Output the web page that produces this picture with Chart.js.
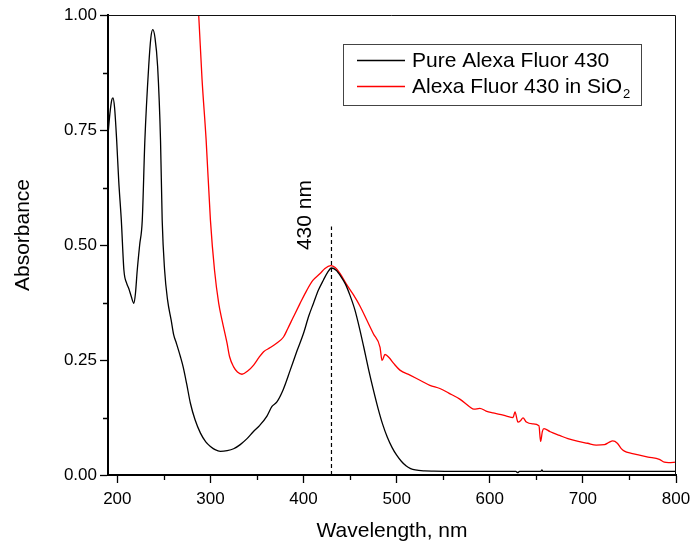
<!DOCTYPE html>
<html>
<head>
<meta charset="utf-8">
<script src="https://cdn.jsdelivr.net/npm/chart.js@4.4.1/dist/chart.umd.min.js"></script>
<style>
html,body{margin:0;padding:0;background:#fff;}
canvas{display:block;}
</style>
</head>
<body>
<canvas id="c" width="691" height="546"></canvas>
<script>
// ---- data ----
const seriesLabels = ['Pure Alexa Fluor 430', 'Alexa Fluor 430 in SiO\u2082'];

const pureX = [190,192,194,195.3,197,199.3,201.5,204.3,207.1,210,212.4,215,217.8,219.5,221.4,224,226.8,229.6,233.7,236,238.1,240.5,243.3,246.4,248.2,250.8,254,257.9,260.5,263.5,267.8,270.7,274.5,278.5,283.5,289.3,295,300.7,305,310.7,318,324.9,332,339.3,346,353,360.7,366.1,371.4,378,385.7,393,400,405.5,410.6,416,421.4,426,430,435,440,445,450,455,460,465,470,475,480,485,490,495,500,505,510,515,520,530,540,560,600,628,630,632,655,656,657,700,750,800];
const pureY = [0.74,0.785,0.815,0.82,0.80,0.728,0.64,0.554,0.445,0.417,0.405,0.388,0.373,0.395,0.445,0.50,0.554,0.728,0.888,0.95,0.968,0.95,0.888,0.728,0.554,0.445,0.38,0.336,0.305,0.286,0.257,0.235,0.198,0.156,0.12,0.091,0.072,0.061,0.055,0.0515,0.053,0.057,0.066,0.079,0.094,0.108,0.128,0.149,0.159,0.185,0.228,0.27,0.308,0.345,0.373,0.402,0.424,0.441,0.45,0.445,0.432,0.415,0.39,0.36,0.32,0.275,0.228,0.185,0.145,0.11,0.082,0.06,0.043,0.03,0.02,0.014,0.011,0.009,0.0085,0.008,0.008,0.008,0.005,0.008,0.008,0.011,0.008,0.008,0.008,0.008];

const sio2X = [282,287.4,291,295.4,300,304.4,308.9,312.5,317.9,320.6,324.9,329,333.9,340,346.4,352,357.1,364.3,371.4,378.5,383,389.2,396,403.6,410,417.8,423,429,434,439.3,446,453.5,460.7,467.9,475,482.1,484.3,487.5,492,497,503.5,514.3,525,535.7,546.4,556,567.8,578.6,583,589.3,596,603.5,610.7,618,625,627.1,630.3,633,635.7,639.3,646,652.8,654.6,656.5,658.2,665,675,683.9,695,705,714.3,723.2,728,732.1,737,741,744.6,752,760.7,770,782.1,787.5,792,800];
const sio2Y = [1.17,1.0,0.86,0.728,0.554,0.445,0.373,0.336,0.286,0.257,0.235,0.224,0.219,0.226,0.239,0.255,0.268,0.277,0.287,0.30,0.318,0.344,0.372,0.402,0.423,0.438,0.449,0.455,0.451,0.438,0.415,0.392,0.367,0.337,0.307,0.278,0.249,0.262,0.255,0.242,0.228,0.217,0.206,0.195,0.188,0.178,0.165,0.148,0.143,0.145,0.139,0.135,0.132,0.128,0.125,0.137,0.115,0.118,0.124,0.115,0.111,0.107,0.073,0.095,0.101,0.094,0.086,0.079,0.073,0.069,0.065,0.066,0.071,0.074,0.069,0.058,0.052,0.047,0.043,0.039,0.034,0.028,0.027,0.028];

const peakMarkerX = [430, 430];
const peakMarkerY = [0, 0.54];
const peakLabel = '430 nm';
const peakLabelY = 0.565;

const xTickValues = [200,300,400,500,600,700,800];
const xMinorTicks = [250,350,450,550,650,750];
const yTickValues = [0,0.25,0.5,0.75,1.0];
const yMinorTicks = [0.125,0.375,0.625,0.875];
const xTitle = 'Wavelength, nm';
const yTitle = 'Absorbance';

// ---- chart ----
const FONT = "'Liberation Sans', Arial, Helvetica, sans-serif";
Chart.defaults.font.family = FONT;
Chart.defaults.color = '#000';

const toXY = (xs, ys) => xs.map((x, i) => ({x: x, y: ys[i]}));

function drawRich(ctx, text, x, y, size) {
  // draws text, rendering '\u2082' as a subscript 2
  const parts = text.split('\u2082');
  let cx = x;
  parts.forEach((p, i) => {
    ctx.font = size + 'px ' + FONT;
    ctx.fillText(p, cx, y);
    cx += ctx.measureText(p).width;
    if (i < parts.length - 1) {
      const s = Math.round(size * 0.62);
      ctx.font = s + 'px ' + FONT;
      ctx.fillText('2', cx + 1, y + size * 0.36);
      cx += ctx.measureText('2').width + 1;
    }
  });
}

const extras = {
  id: 'extras',
  afterDraw(chart) {
    const {ctx, chartArea: a, scales: {x, y}} = chart;
    ctx.save();
    // top and right frame
    ctx.strokeStyle = '#111';
    ctx.lineWidth = 1;
    ctx.beginPath();
    ctx.moveTo(a.left, a.top + 0.5);
    ctx.lineTo(a.right - 0.5, a.top + 0.5);
    ctx.lineTo(a.right - 0.5, a.bottom);
    ctx.stroke();
    // minor ticks
    ctx.strokeStyle = '#000';
    ctx.lineWidth = 1.3;
    ctx.beginPath();
    xMinorTicks.forEach(v => {
      const px = Math.round(x.getPixelForValue(v)) + 0.5;
      ctx.moveTo(px, a.bottom);
      ctx.lineTo(px, a.bottom + 5);
    });
    yMinorTicks.forEach(v => {
      const py = Math.round(y.getPixelForValue(v)) + 0.5;
      ctx.moveTo(a.left, py);
      ctx.lineTo(a.left - 5, py);
    });
    ctx.stroke();

    // peak label (rotated)
    ctx.fillStyle = '#000';
    ctx.save();
    ctx.translate(x.getPixelForValue(peakMarkerX[0]) - 26, y.getPixelForValue(peakLabelY));
    ctx.rotate(-Math.PI / 2);
    ctx.font = '21px ' + FONT;
    ctx.textAlign = 'center';
    ctx.textBaseline = 'middle';
    ctx.fillText(peakLabel, 0, 0);
    ctx.restore();

    // y axis title
    ctx.save();
    ctx.translate(23, (a.top + a.bottom) / 2 - 10);
    ctx.rotate(-Math.PI / 2);
    ctx.font = '21px ' + FONT;
    ctx.textAlign = 'center';
    ctx.textBaseline = 'middle';
    ctx.fillText(yTitle, 0, 0);
    ctx.restore();

    // legend
    const lx = a.right - 333, ly = a.top + 29, lw = 298, lh = 61;
    ctx.strokeStyle = '#444';
    ctx.lineWidth = 1;
    ctx.strokeRect(lx + 0.5, ly + 0.5, lw, lh);
    ctx.textAlign = 'left';
    ctx.textBaseline = 'middle';
    const rowY = [ly + 16, ly + 42];
    [0, 1].forEach(i => {
      const ds = chart.data.datasets[i];
      ctx.strokeStyle = ds.borderColor;
      ctx.lineWidth = 1.3;
      ctx.beginPath();
      ctx.moveTo(lx + 14, rowY[i] + 0.5);
      ctx.lineTo(lx + 62, rowY[i] + 0.5);
      ctx.stroke();
      ctx.fillStyle = '#000';
      drawRich(ctx, ds.label, lx + 69, rowY[i] + 1, 21);
    });
    ctx.restore();
  }
};

new Chart(document.getElementById('c'), {
  type: 'line',
  data: {
    datasets: [
      {label: seriesLabels[0], data: toXY(pureX, pureY), borderColor: '#000000', borderWidth: 1.3,
       pointRadius: 0, cubicInterpolationMode: 'monotone', fill: false},
      {label: seriesLabels[1], data: toXY(sio2X, sio2Y), borderColor: '#ff0000', borderWidth: 1.3,
       pointRadius: 0, cubicInterpolationMode: 'monotone', fill: false},
      {label: 'marker', data: toXY(peakMarkerX, peakMarkerY), borderColor: '#000000', borderWidth: 1.2,
       borderDash: [4, 3], pointRadius: 0, fill: false}
    ]
  },
  options: {
    responsive: false,
    animation: false,
    devicePixelRatio: 1,
    layout: {padding: {top: 15, right: 15, left: 0, bottom: 0}},
    plugins: {legend: {display: false}, tooltip: {enabled: false}},
    scales: {
      x: {
        type: 'linear', min: 190, max: 800, offset: false,
        afterBuildTicks: s => { s.ticks = xTickValues.map(v => ({value: v})); },
        afterFit: s => { s.height = 71; s.paddingLeft = 0; s.paddingRight = 0; },
        ticks: {font: {size: 17}, padding: 6, maxRotation: 0, autoSkip: false, callback: v => String(v)},
        grid: {display: true, drawOnChartArea: false, drawTicks: true, tickLength: 8, tickWidth: 1.3, tickColor: '#000'},
        border: {display: true, width: 2, color: '#000'},
        title: {display: true, text: xTitle, font: {size: 21}, padding: {top: 0, bottom: 2}}
      },
      y: {
        type: 'linear', min: 0, max: 1.0,
        afterBuildTicks: s => { s.ticks = yTickValues.map(v => ({value: v})); },
        afterFit: s => { s.width = 108; s.paddingTop = 0; s.paddingBottom = 0; },
        ticks: {font: {size: 17}, padding: 3, autoSkip: false, callback: v => Number(v).toFixed(2)},
        grid: {display: true, drawOnChartArea: false, drawTicks: true, tickLength: 8, tickWidth: 1.3, tickColor: '#000'},
        border: {display: true, width: 2, color: '#000'}
      }
    }
  },
  plugins: [extras]
});
</script>
</body>
</html>
